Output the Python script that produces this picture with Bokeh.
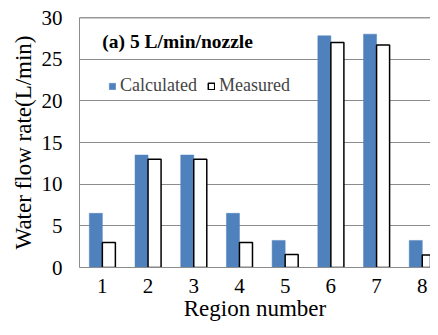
from bokeh.plotting import figure
from bokeh.models import Range1d, Legend, LegendItem, Span, FixedTicker, ColumnDataSource, Label
from bokeh.transform import dodge
from bokeh.embed import file_html
from bokeh.resources import INLINE

regions = [1, 2, 3, 4, 5, 6, 7, 8]
calculated = [6.5, 13.5, 13.5, 6.5, 3.25, 27.8, 28.0, 3.25]
measured = [3.0, 13.0, 13.0, 3.0, 1.55, 27.0, 26.7, 1.5]
y_ticks = [0, 5, 10, 15, 20, 25, 30]
title_text = "(a) 5 L/min/nozzle"

src = ColumnDataSource(dict(region=regions, calc=calculated, meas=measured))

FONT = "Liberation Serif"
GRID = "#8c8c8c"

p = figure(width=430, height=327, output_backend="svg", toolbar_location=None,
           x_range=Range1d(0.5, 8.18), y_range=Range1d(0, 30),
           min_border_left=79, min_border_right=0, min_border_top=17, min_border_bottom=60)
p.outline_line_color = None
p.background_fill_color = "white"

bw = 0.285
r_calc = p.vbar(x=dodge("region", -bw / 2), top="calc", width=bw, source=src,
                fill_color="#4F81BD", line_color="#4F81BD", line_width=0.5)
r_meas = p.vbar(x=dodge("region", bw / 2), top="meas", width=bw, source=src,
                fill_color="white", line_color="black", line_width=1.5)

p.xgrid.visible = False
p.ygrid.ticker = FixedTicker(ticks=y_ticks)
p.ygrid.grid_line_color = GRID
p.ygrid.grid_line_width = 1

p.add_layout(Span(location=30, dimension="width", line_color="#333333", line_width=1.5))

p.yaxis.ticker = FixedTicker(ticks=y_ticks)
p.xaxis.ticker = FixedTicker(ticks=regions)
for ax in (p.xaxis[0], p.yaxis[0]):
    ax.major_tick_line_color = None
    ax.minor_tick_line_color = None
    ax.major_tick_out = 0
    ax.major_tick_in = 0
    ax.minor_tick_out = 0
    ax.minor_tick_in = 0
    ax.axis_line_color = GRID
    ax.major_label_text_font = FONT
    ax.major_label_text_font_size = "21px"
    ax.major_label_text_color = "black"
    ax.axis_label_text_font = FONT
    ax.axis_label_text_font_size = "23px"
    ax.axis_label_text_font_style = "normal"
    ax.axis_label_text_color = "black"

p.yaxis.axis_label = "Water flow rate(L/min)"
p.xaxis.axis_label = "Region number"
p.yaxis.major_label_standoff = 17
p.yaxis.axis_label_standoff = 3
p.xaxis.major_label_standoff = 11
p.xaxis.axis_label_standoff = 0

p.add_layout(Label(x=1.0, y=27.1, text=title_text, text_font=FONT, text_font_size="19.5px",
                   text_font_style="bold", text_baseline="middle", text_color="black"))

legend = Legend(items=[LegendItem(label="Calculated", renderers=[r_calc]),
                       LegendItem(label="Measured", renderers=[r_meas])],
                orientation="horizontal", location=(29, 171),
                glyph_width=8, glyph_height=8, label_standoff=4, spacing=10,
                padding=0, margin=0, border_line_color=None, background_fill_alpha=0,
                label_text_font=FONT, label_text_font_size="18px", label_height=20)
p.add_layout(legend, "center")

open("out.html", "w").write(file_html(p, INLINE))
